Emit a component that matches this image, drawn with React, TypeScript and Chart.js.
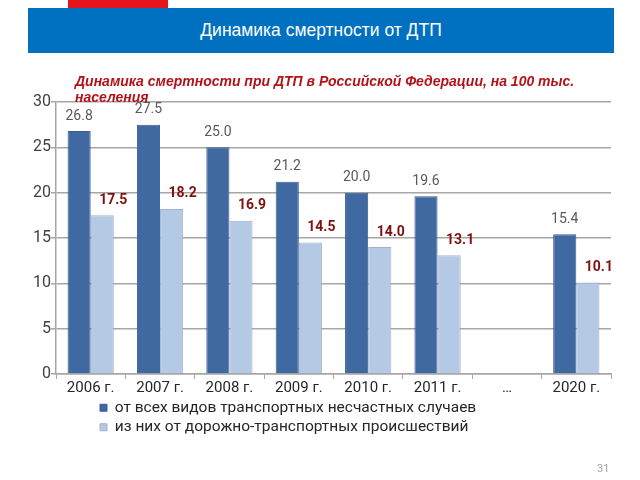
import React, { useEffect, useRef } from "react";
import { Chart, registerables } from "chart.js";

Chart.register(...registerables);

const categories = ["2006 г.", "2007 г.", "2008 г.", "2009 г.", "2010 г.", "2011 г.", "…", "2020 г."];
const allTransport = [26.8, 27.5, 25.0, 21.2, 20.0, 19.6, null, 15.4];
const roadAccidents = [17.5, 18.2, 16.9, 14.5, 14.0, 13.1, null, 10.1];
const seriesNames = [
  "от всех видов транспортных несчастных случаев",
  "из них от дорожно-транспортных происшествий",
];
const yTicks = [0, 5, 10, 15, 20, 25, 30];

const headerTitle = "Динамика смертности от ДТП";
const subtitleLine1 = "Динамика смертности при ДТП в Российской Федерации, на 100 тыс.";
const subtitleLine2 = "населения";
const pageNumber = "31";

const FONT = "Roboto, 'Liberation Sans', sans-serif";

const labelsPlugin = {
  id: "barValueLabels",
  afterDatasetsDraw(chart: any) {
    const ctx = chart.ctx;
    ctx.save();
    ctx.textAlign = "center";
    ctx.textBaseline = "middle";
    chart.data.datasets.forEach((ds: any, di: number) => {
      const meta = chart.getDatasetMeta(di);
      meta.data.forEach((el: any, i: number) => {
        const v = ds.data[i];
        if (v === null || v === undefined) return;
        if (di === 0) {
          ctx.fillStyle = "#595959";
          ctx.font = `14px ${FONT}`;
          ctx.fillText(v.toFixed(1), el.x, el.y - 15);
        } else {
          ctx.fillStyle = "#800f0f";
          ctx.font = `bold 14px ${FONT}`;
          ctx.fillText(v.toFixed(1), el.x + 11, el.y - 15);
        }
      });
    });
    ctx.restore();
  },
};

const legendShift = {
  id: "legendShift",
  beforeDraw(chart: any) {
    const lg = chart.legend;
    if (!lg || lg._shifted) return;
    const dx = 96 - lg.left;
    lg.left += dx;
    lg.right += dx;
    const dy = chart.chartArea.bottom + 22 - lg.top;
    lg.top += dy;
    lg.bottom += dy;
    lg._shifted = true;
  },
};

export default function App() {
  const ref = useRef<HTMLCanvasElement | null>(null);

  useEffect(() => {
    if (!ref.current) return;
    const chart = new Chart(ref.current, {
      type: "bar",
      data: {
        labels: categories,
        datasets: [
          {
            label: seriesNames[0],
            data: allTransport,
            backgroundColor: "#4169a1",
            borderColor: "#3a5f93",
            borderWidth: 1,
            barPercentage: 1,
            categoryPercentage: 0.667,
          },
          {
            label: seriesNames[1],
            data: roadAccidents,
            backgroundColor: "#b4c9e4",
            borderColor: "#9fb3cf",
            borderWidth: 1,
            barPercentage: 1,
            categoryPercentage: 0.667,
          },
        ],
      },
      options: {
        responsive: false,
        animation: false,
        layout: { padding: { top: 102, left: 0, right: 29, bottom: 34 } },
        plugins: {
          tooltip: { enabled: false },
          legend: {
            position: "bottom",
            align: "start",
            labels: {
              boxWidth: 7,
              boxHeight: 7,
              padding: 4,
              color: "#262626",
              font: { size: 15.5, family: FONT },
            },
          },
        },
        scales: {
          x: {
            offset: true,
            grid: { drawOnChartArea: false, drawTicks: true, tickLength: 5, color: "#a6a6a6", offset: true },
            border: { color: "#a6a6a6", width: 1.5 },
            ticks: { color: "#262626", font: { size: 15, family: FONT }, padding: 0, maxRotation: 0 },
          },
          y: {
            min: 0,
            max: 30,
            afterBuildTicks(scale: any) {
              scale.ticks = yTicks.map((v) => ({ value: v }));
            },
            afterFit(scale: any) {
              scale.width = 56;
            },
            grid: { color: "#a6a6a6", lineWidth: 1.5, tickLength: 5 },
            border: { color: "#a6a6a6", width: 1.5 },
            ticks: { color: "#404040", font: { size: 16, family: FONT }, padding: 0 },
          },
        },
      },
      plugins: [labelsPlugin, legendShift],
    });
    return () => chart.destroy();
  }, []);

  return (
    <div style={{ position: "absolute", left: 0, top: 0, width: 640, height: 480, background: "#fff", overflow: "hidden" }}>
      <div style={{ position: "absolute", left: 68, top: 0, width: 100, height: 8, background: "#e8141b" }} />
      <div
        style={{
          position: "absolute",
          left: 28,
          top: 8,
          width: 586,
          height: 45,
          background: "#0070c0",
          color: "#fff",
          fontFamily: "'Liberation Sans', Arial, sans-serif",
          fontSize: 17.5,
          lineHeight: "45px",
          textAlign: "center",
        }}
      >
        {headerTitle}
      </div>
      <canvas ref={ref} width={640} height={480} style={{ position: "absolute", left: 0, top: 0 }} />
      <div
        style={{
          position: "absolute",
          left: 75,
          top: 73,
          color: "#b3121b",
          fontFamily: "'Liberation Sans', Arial, sans-serif",
          fontSize: 14,
          fontWeight: "bold",
          fontStyle: "italic",
          lineHeight: "16px",
          whiteSpace: "nowrap",
        }}
      >
        <div>{subtitleLine1}</div>
        <div>{subtitleLine2}</div>
      </div>
      <div
        style={{
          position: "absolute",
          left: 597,
          top: 462,
          color: "#a0a0a0",
          fontFamily: FONT,
          fontSize: 11,
        }}
      >
        {pageNumber}
      </div>
    </div>
  );
}
